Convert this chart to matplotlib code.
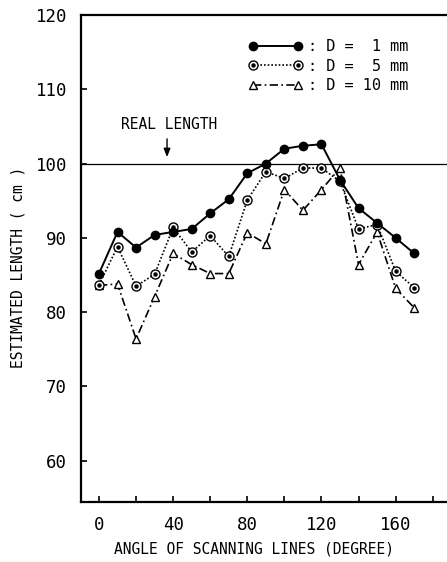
import matplotlib
matplotlib.use("Agg")
import matplotlib.pyplot as plt
from matplotlib.legend_handler import HandlerTuple

angles = [0, 10, 20, 30, 40, 50, 60, 70, 80, 90, 100, 110, 120, 130, 140, 150, 160, 170]
d1 = [85.2, 90.8, 88.7, 90.4, 90.8, 91.2, 93.3, 95.2, 98.7, 100.0, 102.0, 102.4, 102.6, 97.8, 94.0, 92.0, 90.0, 87.9]
d5 = [83.7, 88.8, 83.5, 85.1, 91.4, 88.1, 90.3, 87.5, 95.1, 98.9, 98.0, 99.4, 99.4, 97.6, 91.2, 91.8, 85.5, 83.3]
d10 = [83.6, 83.8, 76.4, 82.1, 87.9, 86.4, 85.2, 85.2, 90.7, 89.2, 96.5, 93.7, 96.5, 99.4, 86.4, 90.8, 83.2, 80.6]
labels = [": D =  1 mm", ": D =  5 mm", ": D = 10 mm"]
real_length = 100
xticks_major = [0, 40, 80, 120, 160]
xticks_minor = [20, 60, 100, 140, 180]
yticks = [60, 70, 80, 90, 100, 110, 120]

mono = "DejaVu Sans Mono"
W, H = 447, 562
fig = plt.figure(figsize=(W / 100, H / 100), dpi=100)
ax = fig.add_axes([81 / W, 1 - 502 / H, (W - 81) / W, (502 - 15) / H])

ax.axhline(real_length, color="black", lw=0.9, zorder=1)

l1, = ax.plot(angles, d1, "-", color="black", lw=1.4, marker="o", ms=6,
              mfc="black", mec="black", zorder=4)
l5, = ax.plot(angles, d5, linestyle=(0, (1, 1.2)), color="black", lw=1.2,
              marker="o", ms=6.5, mfc="white", mec="black", mew=1.0, zorder=3)
l5b, = ax.plot(angles, d5, linestyle="none", marker="o", ms=2.2,
               mfc="black", mec="black", zorder=3.5)
l10, = ax.plot(angles, d10, linestyle=(0, (5, 2, 1, 2)), color="black", lw=1.2,
               marker="^", ms=6, mfc="white", mec="black", mew=1.0, zorder=2)

ax.set_xlim(-9.7, 187.7)
ax.set_ylim(54.45, 120)

for s in ["left", "top", "bottom"]:
    ax.spines[s].set_linewidth(1.6)
ax.spines["right"].set_visible(False)

ax.set_xticks(xticks_major)
ax.set_xticks(xticks_minor, minor=True)
ax.set_yticks(yticks)
ax.tick_params(axis="both", which="both", direction="in", length=4, width=1.2,
               labelsize=12.5, top=False, right=False)
ax.tick_params(axis="x", pad=10)
ax.tick_params(axis="y", pad=10)
for t in ax.get_xticklabels() + ax.get_yticklabels():
    t.set_family(mono)

ax.set_xlabel("ANGLE OF SCANNING LINES (DEGREE)", family=mono, fontsize=10.5,
              va="center")
ax.xaxis.set_label_coords((254 - 81) / (W - 81), -(549 - 502) / (502 - 15))
ax.set_ylabel("ESTIMATED LENGTH ( cm )", family=mono, fontsize=10.5,
              va="center")
ax.yaxis.set_label_coords(-(81 - 18) / (W - 81), (502 - 267) / (502 - 15))

ax.text(37.8, 105.3, "REAL LENGTH", family=mono, fontsize=10.5,
        ha="center", va="center")
ax.annotate("", xy=(36.7, 100.5), xytext=(36.7, 103.7),
            arrowprops=dict(arrowstyle="-|>,head_length=0.5,head_width=0.2",
                            color="black", lw=1.0))

leg = ax.legend([l1, (l5, l5b), l10], labels,
                handler_map={tuple: HandlerTuple(ndivide=1)},
                loc="upper left", bbox_to_anchor=((248 - 81) / (W - 81), 1 - (39 - 15) / (502 - 15)),
                frameon=False, numpoints=2, handlelength=3.6, handletextpad=0.3,
                labelspacing=0.3, borderaxespad=0, borderpad=0,
                prop={"family": mono, "size": 11})

fig.savefig("out.png", dpi=100)
